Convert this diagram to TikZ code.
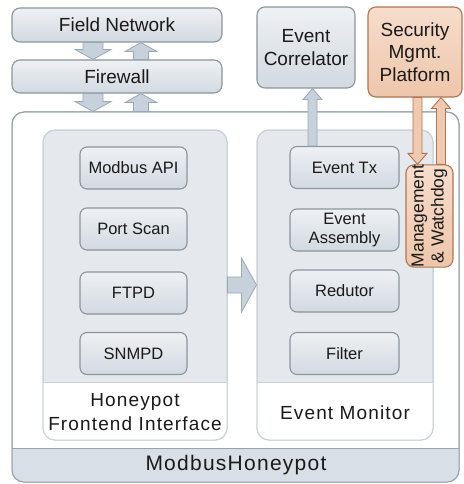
\documentclass[tikz,border=0pt]{standalone}
\usepackage{fontspec}
\setmainfont{Liberation Sans}
\newfontfamily\spacedfont[LetterSpace=6]{Liberation Sans}
\usetikzlibrary{calc}
\definecolor{boxtop}{HTML}{EEF1F4}
\definecolor{boxbot}{HTML}{D2D9E0}
\definecolor{boxline}{HTML}{8C949C}
\definecolor{panelfill}{HTML}{E5E9EE}
\definecolor{panelline}{HTML}{C8D0D8}
\definecolor{outerline}{HTML}{9AA3AB}
\definecolor{bandfill}{HTML}{D9DFE6}
\definecolor{arrfill}{HTML}{C6D1DC}
\definecolor{arrline}{HTML}{9AA8B5}
\definecolor{orfill}{HTML}{EFCAB0}
\definecolor{ortop}{HTML}{F6DDCC}
\definecolor{orbot}{HTML}{EEC6AA}
\definecolor{orline}{HTML}{B27450}
\definecolor{txt}{HTML}{1A1A1A}
\newcommand{\blockarrow}[6][]{%
  \coordinate (ba-h) at ($(#3)!#6!(#2)$);
  \draw[#1] ($(#2)!#4!90:(#3)$) -- ($(ba-h)!#4!-90:(#2)$) -- ($(ba-h)!#5!-90:(#2)$) -- (#3)
    -- ($(ba-h)!#5!90:(#2)$) -- ($(ba-h)!#4!90:(#2)$) -- ($(#2)!#4!-90:(#3)$) -- cycle;}
\begin{document}
\begin{tikzpicture}[x=1pt,y=-1pt,
  every node/.style={text=txt, inner sep=0pt, align=center},
  topbox/.style={draw=boxline, line width=1.1pt, rounded corners=8pt, top color=boxtop, bottom color=boxbot, font=\fontsize{19}{22.5}\selectfont},
  innerbox/.style={draw=boxline, line width=1.1pt, rounded corners=7pt, top color=boxtop, bottom color=boxbot, minimum width=107pt, minimum height=42pt, font=\fontsize{16.5}{19.5}\selectfont},
  orbox/.style={draw=orline, line width=1.1pt, rounded corners=8pt, top color=ortop, bottom color=orbot, font=\fontsize{19}{22.5}\selectfont},
  grayarrow/.style={draw=arrline, fill=arrfill, line width=0.8pt, line join=miter},
  orarrow/.style={draw=orline, fill=orfill, line width=0.9pt, line join=miter},
  panelbox/.style={draw=panelline, line width=1pt, rounded corners=12pt},
  lbl/.style={font=\spacedfont\fontsize{19}{24}\selectfont}
]
\useasboundingbox (0,0) rectangle (463,484);

% outer box
\node[draw=outerline, line width=1pt, fill=white, rounded corners=12pt, minimum width=447pt, minimum height=370pt] (mh) at (235.5,297) {};
\begin{scope}
  \clip (10,448) rectangle (461,484);
  \fill[bandfill, rounded corners=12pt] (12,112) rectangle (459,482);
\end{scope}
\draw[outerline, line width=1pt] (12,448) -- (459,448);
\draw[outerline, line width=1pt, rounded corners=12pt] (12,112) rectangle (459,482);
\node[font=\spacedfont\fontsize{21}{24}\selectfont] (mhl) at (236,465) {ModbusHoneypot};

% panels
\node[panelbox, fill=panelfill, minimum width=184pt, minimum height=310pt] (lp) at (135,285) {};
\node[panelbox, fill=panelfill, minimum width=176pt, minimum height=310pt] (rp) at (345,285) {};
\begin{scope}
  \clip (40,382) rectangle (440,445);
  \fill[white, rounded corners=12pt] (43,130) rectangle (227,440);
  \fill[white, rounded corners=12pt] (257,130) rectangle (433,440);
\end{scope}
\draw[panelline, line width=1pt] (43,382) -- (227,382) (257,382) -- (433,382);
\draw[panelline, line width=1pt, rounded corners=12pt] (43,130) rectangle (227,440) (257,130) rectangle (433,440);
\node[lbl] (lpl) at (135,412) {Honeypot\\Frontend Interface};
\node[lbl] (rpl) at (345,413) {Event Monitor};

% top boxes
\node[topbox, minimum width=210pt, minimum height=34pt] (fn) at (117,25) {Field Network};
\node[topbox, minimum width=210pt, minimum height=33pt] (fw) at (117,76.5) {Firewall};
\node[topbox, minimum width=98pt, minimum height=81pt] (ec) at (306,47.5) {Event\\Correlator};
\node[orbox, minimum width=94pt, minimum height=90pt] (sec) at (415,52) {Security\\Mgmt.\\Platform};

% inner boxes left
\node[innerbox] (mod) at (133.5,168) {Modbus API};
\node[innerbox] (ps) at (133.5,229) {Port Scan};
\node[innerbox] (ftp) at (133.5,293) {FTPD};
\node[innerbox] (snm) at (133.5,353.5) {SNMPD};
% inner boxes right
\node[innerbox, minimum width=109pt] (etx) at (344.5,167.5) {Event Tx};
\node[innerbox, minimum width=109pt] (eas) at (344.5,230) {Event\\Assembly};
\node[innerbox, minimum width=109pt] (red) at (344.5,291) {Redutor};
\node[innerbox, minimum width=109pt] (fil) at (344.5,353.5) {Filter};

% arrows between field network / firewall / honeypot
\coordinate (a1s) at ($(fn.south)+(-24,0)$);
\coordinate (a1e) at ($(fw.north)+(-24,0)$);
\coordinate (a2s) at ($(fw.north)+(24,0)$);
\coordinate (a2e) at ($(fn.south)+(24,0)$);
\coordinate (a3s) at ($(fw.south)+(-24,0)$);
\coordinate (a3e) at (a3s |- mh.north);
\coordinate (a4e) at ($(fw.south)+(24,0)$);
\coordinate (a4s) at (a4e |- mh.north);
\blockarrow[grayarrow]{a1s}{a1e}{10pt}{18pt}{10pt}
\blockarrow[grayarrow]{a2s}{a2e}{7.5pt}{16pt}{9pt}
\blockarrow[grayarrow]{a3s}{a3e}{10pt}{18pt}{10pt}
\blockarrow[grayarrow]{a4s}{a4e}{7.5pt}{16pt}{9pt}

% panel arrow
\blockarrow[grayarrow]{lp.east}{rp.west}{8pt}{27pt}{15pt}

% event tx -> correlator
\coordinate (ecs) at ($(etx.north)+(-32,0)$);
\coordinate (ece) at (ecs |- ec.south);
\blockarrow[grayarrow]{ecs}{ece}{4.5pt}{9.5pt}{11pt}

% management box
\node[orbox, rotate=90, minimum width=102pt, minimum height=47pt, font=\fontsize{17.5}{20}\selectfont] (mw) at (429.5,216) {Management\\\& Watchdog};

% security arrows
\coordinate (sd1) at ($(sec.south)+(2.5,0)$);
\coordinate (sd2) at (sd1 |- mw.east);
\coordinate (su1) at ($(sec.south)+(26,0)$);
\coordinate (su0) at (su1 |- mw.east);
\blockarrow[orarrow]{sd1}{sd2}{4.5pt}{9.5pt}{11pt}
\blockarrow[orarrow]{su0}{su1}{4.5pt}{9.5pt}{11pt}
\end{tikzpicture}
\end{document}
